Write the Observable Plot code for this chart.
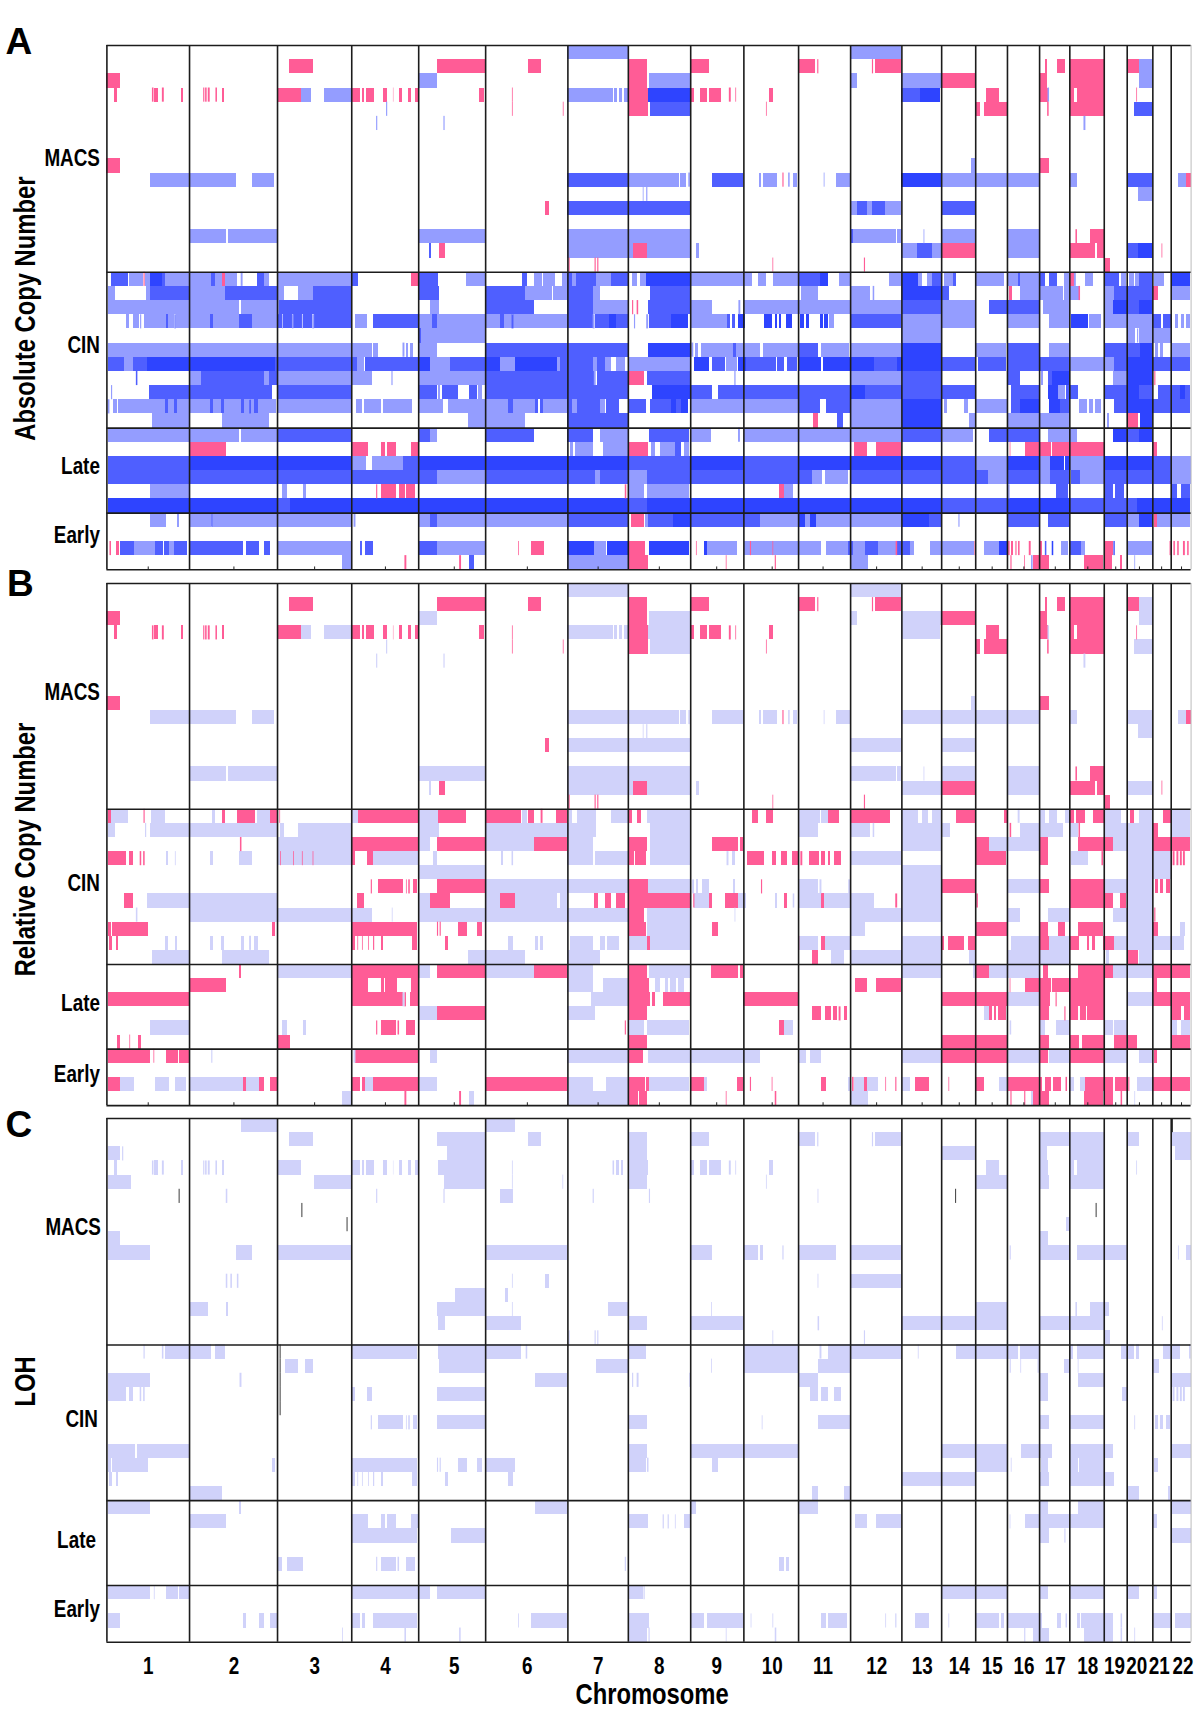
<!DOCTYPE html>
<html><head><meta charset="utf-8">
<script src="https://cdn.jsdelivr.net/npm/d3@7"></script>
<script src="https://cdn.jsdelivr.net/npm/@observablehq/plot@0.6"></script>
<style>
html,body{margin:0;padding:0;background:#fff}
#page{position:relative;width:1200px;height:1710px;overflow:hidden}
#page svg{position:absolute;left:0;background:transparent;max-width:none}
</style></head><body><div id="page"></div>
<script>
const P="loss",L="gain1",M="gain2",D="gain3",V="rel",K="mark";
const states=[P,L,M,D,V,K];
const stateColors=["#ff5c96","#949dff","#4f5fff","#2e44ff","#d0d2fa","#000000"];
const chromBounds=[279,495,725,919,1094,1269,1484,1642,1805,1944,2087,2223,2357,2461,2550,2633,2717,2796,2886,2946,3013,3061,3113];
const chromCenters=[387,611,822,1007,1187,1378,1563,1723,1873,2018,2151,2291,2410,2507,2593,2676,2758,2843,2916,2978,3036,3088];
const chromLabelX=[387,611,822,1007,1187,1378,1563,1723,1873,2018,2151,2291,2410,2507,2593,2676,2758,2843,2913,2971,3030,3092];
const chromNames=d3.range(1,23).map(String);
const groupBreaks=[16,27,33];
const HALF=1568;

const aMacsLeft=[
[0,L,1484,1568],
[1,P,755,820,1142,1269,1380,1416],
[2,P,279,314],[2,L,1094,1142],
[3,P,300,307,398,402,404,413,424,429,473,480,532,535,537,541,544,549,564,568,580,587,725,788,919,943,946,952,958,979,1002,1012,1028,1029,1045,1051,1068,1074,1085,1094,1254,1265,1339,1341],
[3,L,788,814,847,919,1484,1568],
[4,P,1339,1341,1472,1474],[4,L,1010,1013],
[5,L,984,987,1160,1163],
[8,P,279,314],
[9,L,393,618,659,718],[9,M,1484,1568],
[11,P,1426,1436],[11,M,1484,1568],
[13,L,495,592,597,725,1094,1269,1484,1568],
[14,M,1121,1128],[14,P,1148,1163],[14,L,1484,1568],
[15,P,1487,1490,1555,1558,1562,1565]];
const aMacsRight=[
[0,L,0,74,655,789],
[1,P,74,124,237,285,519,564,569,572,712,715,721,789,1164,1170,1196,1216,1229,1318,1380,1411],[1,L,1411,1443],
[2,P,74,124,893,982,1150,1170,1229,1318],[2,L,129,237,655,672,789,893,1411,1443],
[3,L,0,35,38,45,52,58,63,74,1171,1175],
[3,P,74,127,237,246,262,282,287,318,338,343,355,357,443,453,1009,1045,1150,1171,1229,1240,1248,1318,1403,1405],
[3,D,127,237,838,889],[3,M,789,838],
[4,P,74,127,435,437,982,995,1004,1064,1170,1174,1229,1318],[4,M,131,237,1398,1443],
[5,L,1265,1270],
[8,L,972,982],[8,P,1150,1175],
[9,M,0,74,294,376,1378,1445],[9,D,789,893],
[9,L,74,207,210,225,232,236,416,422,427,464,493,497,507,516,586,588,617,655,893,1148,1229,1248,1512,1532],
[9,P,478,481,1532,1545],
[10,L,113,115,122,125,1407,1445],
[11,M,0,237,673,698,713,745,893,982],[11,L,655,673,698,713,745,789],
[13,L,0,237,663,774,777,789,847,849,893,982,1065,1148],[13,M,655,663],[13,P,1244,1248,1281,1318],
[14,L,0,87,124,237,251,259,789,829,868,893,1065,1148],
[14,P,87,124,893,982,1229,1296,1300,1318,1469,1471],
[14,M,829,868,1378,1407],[14,D,1407,1445],
[15,P,452,454,691,694,1322,1335]];

const aRestLeft=[
[16,M,291,335,424,431,553,562,672,692,919,937,1094,1145,1365,1378,1484,1495,1507,1558],
[16,L,337,375,380,393,431,553,562,580,590,620,630,635,692,705,727,919,1219,1269,1398,1418,1420,1452,1470,1484,1495,1507,1558,1568],
[16,P,376,379,580,590,1074,1094],[16,D,394,424],
[17,L,282,301,383,393,495,588,725,744,781,820,1373,1445,1447,1484,1550,1568],
[17,M,394,495,588,725,820,919,1094,1148,1269,1373,1484,1550],
[18,L,282,625,632,725,725,730,1125,1148,1550,1568],[18,M,730,919,1269,1398,1484,1550],
[19,L,330,337,349,363,367,370,378,435,441,457,460,550,557,626,659,725,738,740,764,768,790,792,817,822,930,960,1094,1130,1142,1308,1317,1338,1343,1484,1550,1555],
[19,M,435,441,457,460,550,557,626,643,645,659,725,738,740,764,768,790,792,817,822,919,977,1094,1130,1142,1308,1317,1338,1343,1484,1550,1555,1568],
[20,M,1094,1102],[20,L,1102,1269],
[21,L,282,972,975,990,1053,1058,1062,1068,1073,1080,1094,1142],[21,M,1269,1568],
[22,M,282,325,349,384,720,935,954,1094,1178,1269,1465,1552,1562,1568],
[22,D,384,720,1094,1124,1269,1308,1348,1458],
[22,L,325,349,935,952,1124,1178,1308,1348,1458,1465,1552,1562],
[23,M,356,360,525,690,703,725,1269,1553,1562,1568],
[23,L,497,525,690,703,725,972,1024,1027,1094,1269,1553,1558],
[24,L,291,294,1145,1152,1250,1262],[24,M,390,712,725,919,1094,1142,1155,1197,1226,1249,1269,1568],
[25,L,282,287,295,307,310,431,441,457,463,550,558,578,586,632,639,652,657,664,676,722,725,919,931,947,952,996,1003,1077,1096,1160,1173,1328,1342,1400,1421,1484,1495,1508],
[25,M,431,441,457,463,550,558,578,586,632,639,652,657,664,676,1328,1342,1400,1408,1413,1421,1484,1495,1508,1568],
[26,L,397,495,580,703,1224,1373],[26,M,1484,1568],
[27,L,282,625,632,725,1124,1142],[27,M,725,919,1096,1124,1269,1398,1484,1552],
[28,P,497,592,921,962,996,1008,1012,1037,1074,1094],[28,L,1490,1498,1505,1550],
[29,M,282,495,1053,1094],[29,D,495,919,1094,1568],[29,L,921,957,972,1053],
[30,M,282,1142,1269,1555],[30,L,1142,1269,1555,1568],
[31,L,394,495,739,751,792,802],[31,P,984,987,998,1037,1044,1059,1062,1085],
[32,D,282,725,760,1568],[32,M,725,760],
[33,L,393,436,464,470,495,553,556,919,925,930,1096,1124,1142,1484],[33,M,553,556,1124,1142,1484,1568],
[35,P,287,291,305,312,1355,1357,1388,1423],[35,M,314,352,407,428,430,442,457,490,495,636,643,679,692,706,942,947,955,975,1096,1142],
[35,L,352,407,442,457,727,919,1142,1269,1553,1568],[35,D,1484,1553],
[36,L,895,919,1484,1568],[36,P,1058,1063,1201,1206],[36,M,1227,1239]];
const aRestRight=[
[16,L,0,31,85,98,107,122,237,399,414,435,453,519,627,655,757,789,832,843,857,868,900,925,984,1058,1065,1093,1100,1148,1215,1228,1240,1245,1270,1290,1364,1376,1385,1396,1400,1410,1450,1475],
[16,M,31,74,519,575,868,893,925,932,1093,1100,1148,1165,1176,1196,1318,1358,1410,1445],
[16,D,122,237,575,596,790,832,1497,1543],[16,P,1230,1240],
[17,M,132,237,893,913,1345,1445],[17,L,527,570,655,707,714,718,1098,1212,1214,1252,1318,1345,1497,1543],[17,D,790,893],[17,P,1070,1077,1252,1256,1448,1460],
[18,L,0,74,237,293,363,368,378,788,893,982,1158,1228,1318,1343],[18,P,85,88,97,101],[18,M,127,237,790,893,1018,1148,1378,1410],[18,D,1343,1378,1410,1445],
[19,M,0,25,43,74,130,188,333,340,347,355,655,789,1445,1468,1472,1493],[19,D,25,43,188,232,362,380,430,450,458,464,468,475,488,502,525,535,540,548,575,583,587,597,1232,1278],
[19,L,90,93,122,127,237,332,600,612,790,982,1065,1148,1175,1228,1280,1310,1318,1445,1505,1513,1520,1528,1534,1543],
[20,L,790,893,1378,1400,1405,1408,1410,1493],
[21,M,0,74,349,356,519,570,1065,1148,1318,1413],[21,D,126,237,790,893,1413,1445],
[21,L,240,245,250,258,265,349,356,420,426,519,578,652,655,789,984,1063,1175,1228,1453,1460,1465,1472,1493,1543],
[22,M,0,13,295,328,384,460,465,482,490,516,718,778,893,982,990,1063,1065,1228,1345,1378,1445,1543],[22,L,15,30,42,66,74,237,330,360,1228,1345],
[22,D,247,285,362,384,519,578,585,718,778,893,1378,1445],
[23,M,0,74,125,237,353,355,790,893,1065,1100,1172,1184],[23,P,78,115,1450,1453],[23,L,655,789,1153,1160,1342,1378],[23,D,1184,1228,1378,1445],
[24,M,0,74,237,293,310,655,693,982,1075,1150,1220,1250,1318,1378,1411,1445,1460,1518,1530,1543],[24,D,138,237,655,693,1172,1198,1378,1411,1518,1530],[24,L,1198,1218],
[25,L,0,14,237,519,657,789,900,908,953,962,984,1065,1253,1273,1280,1290,1296,1312],
[25,M,17,50,75,122,131,188,200,212,522,575,592,655,1075,1098,1203,1228,1345,1378,1445,1543],[25,D,188,200,212,232,790,893,1098,1148,1176,1203,1378,1445],
[26,M,0,74,620,636],[26,P,557,571,1380,1408],[26,L,657,789,965,982,1065,1228,1326,1333],[26,D,790,893,1412,1445],
[27,L,0,74,237,292,362,367,378,789,893,976,1172,1247],[27,M,130,235,790,893,1018,1148,1378,1410],[27,D,1343,1378,1410,1445],
[28,L,10,74,134,145,158,198,222,235],[28,P,74,128,665,700,722,788,1072,1074,1112,1180,1184,1318,1448,1457],[28,M,198,212],
[29,D,0,74,237,376,519,893,1065,1148,1178,1215,1218,1228,1318,1445],[29,M,74,237,376,519,893,982,1445,1493],[29,L,982,1065,1148,1178,1228,1318,1493,1545],
[30,M,0,74,125,555,655,982,985,1015,1065,1148,1178,1228,1232,1255,1318,1493],[30,L,74,125,555,582,590,650,1015,1065,1148,1178,1255,1318,1493,1545],
[31,P,66,70,470,482],[31,L,74,117,125,235,482,505,1068,1072],[31,M,1192,1225,1320,1342,1348,1370,1495,1510,1520,1543],
[32,D,0,74,125,893,1065,1228,1405,1543],[32,M,74,125,893,1065,1228,1405],
[33,M,0,74,128,193,237,420,860,893,1065,1148,1172,1228,1318,1378],[33,P,82,115,1450,1458],[33,L,118,128,420,519,538,550,565,789,938,941,1378,1411,1458,1543],[33,D,193,237,519,538,550,565,790,860,1411,1445],
[35,L,0,16,282,360,378,580,593,650,663,695,728,775,812,823,863,980,1005,1044,1206,1225,1258,1268,1382,1445],
[35,D,20,74,130,233,272,282,1044,1066,1182,1186],[35,P,74,120,252,254,393,396,452,454,774,778,980,982,1068,1072,1076,1082,1087,1090,1094,1098,1122,1127,1148,1157,1320,1342,1490,1493,1500,1504,1510,1514,1525,1530,1536,1540],
[35,M,650,663,695,728,778,812,1164,1168,1228,1258,1343,1347],
[36,L,0,74,657,703,1128,1132,1398,1400],[36,P,75,127,330,332,458,461,1074,1077,1110,1112,1132,1176,1267,1315,1318,1340,1360,1366]];

const bRestLeft=[
[16,P,282,290,376,379,580,590,620,668,706,725,731,733,937,1094,1145,1219,1270,1364,1382,1397,1414,1419,1455,1484],
[16,V,290,336,395,431,555,563,672,706,921,937,1096,1145,1365,1378,1488,1497,1508,1558],
[17,V,282,301,380,383,394,725,733,743,781,919,1096,1148,1269,1558],
[18,P,628,632,921,1094,1142,1269,1398,1484],[18,V,725,919,1096,1125,1269,1398,1484,1550],
[19,P,282,330,337,349,366,370,375,379,733,735,767,769,790,792,818,820,921,930,961,977],
[19,V,435,441,458,460,550,557,626,659,725,919,977,1094,1132,1142,1310,1316,1338,1342,1484,1550,1555,1568],
[20,V,725,727,1096,1269],
[21,P,970,973,990,1053,1062,1064,1068,1072,1080,1092,1142,1269],[21,V,1269,1568],
[22,P,324,349,935,953,1124,1178,1308,1347,1553,1563],[22,V,384,725,1096,1124,1269,1308,1347,1458,1465,1484],
[23,V,356,360,497,972,1025,1027,1096,1568],
[24,P,282,290,294,389,713,719,921,1092,1143,1146,1150,1153,1198,1222,1249,1261],
[25,P,286,294,304,310,921,930,935,937,947,949,963,965,976,979,996,1003,1078,1092,1163,1172],
[25,V,431,441,457,463,550,558,578,586,632,639,652,657,664,676,1328,1342,1400,1408,1413,1421,1491,1550],
[26,V,397,495,580,703,1224,1372,1484,1568],
[27,P,625,631,921,1094,1142,1269,1398,1484],[27,V,725,919,1096,1124,1269,1398,1484,1552],
[28,P,497,592,921,946,948,962,997,1005,1008,1038,1074,1094],[28,V,1484,1552],
[29,P,282,495,921,1053,1058,1062,1072,1094],[29,V,1053,1058,1545,1568],
[30,V,1096,1142,1484,1555],[30,P,1142,1269],
[31,V,394,495,739,751,792,802],[31,P,984,987,998,1037,1040,1044,1062,1085],
[32,P,307,314,339,341,361,369,725,760],
[33,P,282,393,402,404,436,465,470,495,930,1094],[33,V,553,556,925,930,1124,1142,1484,1568],
[35,P,282,314,636,644,679,692,706,725,921,942,946,956,975,1094,1270,1484],[35,V,314,352,407,442,457,486,495,636,644,679,956,975,1096,1142,1484,1552],
[36,V,895,919,1227,1239,1484,1568],[36,P,1058,1063,1201,1206]];
const bRestRight=[
[16,V,31,74,124,237,519,575,578,597,790,832,843,858,868,893,1093,1098,1148,1165,1176,1196,1217,1227,1318,1362,1410,1445,1497,1543],
[16,P,74,85,98,108,398,414,435,453,597,627,655,758,932,982,1058,1064,1230,1240,1246,1270,1290,1318,1387,1398,1474,1493],
[17,V,132,237,519,572,655,707,714,718,790,915,1098,1212,1228,1250,1318,1445,1497,1543],[17,P,1072,1076,1252,1256,1448,1460],
[18,P,74,124,294,362,367,374,984,1018,1152,1172,1250,1342,1447,1543],[18,V,132,237,790,893,1018,1148,1342,1445],
[19,V,0,74,132,237,332,337,347,355,655,789,1232,1278,1378,1493],
[19,P,74,90,93,122,385,430,450,460,475,490,502,519,525,530,548,574,578,590,597,603,613,630,984,1063,1150,1172,1312,1316,1498,1503,1508,1513,1517,1522,1525,1530],
[20,V,790,893,1380,1493],
[21,V,0,74,126,237,242,247,252,258,268,285,349,355,519,570,575,580,650,655,790,893,1065,1148,1318,1378,1380,1445],
[21,P,74,126,422,425,893,982,1150,1175,1229,1318,1453,1460,1465,1472,1480,1492],
[22,P,14,30,42,66,74,237,245,248,285,295,328,362,482,490,578,586,773,778,985,989,1229,1318,1320,1342,1360,1375],
[22,V,248,285,362,384,458,465,505,509,520,578,586,718,790,893,1380,1445],
[23,V,0,74,125,237,353,355,655,893,1065,1100,1172,1228,1342,1445],[23,P,74,115,1450,1453],
[24,P,74,122,293,310,984,1065,1150,1172,1198,1218,1250,1316,1447,1459],[24,V,125,237,655,693,1378,1445,1518,1530],
[25,V,0,14,20,50,74,124,131,237,522,572,590,655,790,893,1075,1150,1176,1228,1345,1527],
[25,P,124,131,519,522,578,590,893,901,910,953,962,982,1150,1176,1229,1253,1274,1280,1288,1296,1316,1345],
[26,P,555,572,1378,1407],[26,V,605,638,655,893,965,982,1065,1228,1325,1333,1410,1445],
[27,P,74,125,292,362,367,374,983,1018,1158,1172,1250,1342,1447,1543],[27,V,130,237,790,893,976,982,1018,1148,1342,1445],
[28,V,10,74,146,158,170,180,185,200,205,222],[28,P,74,129,668,700,722,788,1072,1074,1112,1180,1184,1318,1447,1456],
[29,V,0,74,1065,1148,1378,1445],[29,P,74,131,138,146,166,237,376,519,893,1065,1150,1178,1192,1195,1229,1318,1447,1543],
[30,P,74,125,555,580,590,605,610,620,625,630,638,648,1018,1025,1030,1037,1042,1062,1150,1175,1215,1218,1229,1250,1257,1272,1275,1318,1496,1520,1528,1543],[30,V,1005,1018],
[31,P,66,69,470,482],[31,V,74,117,125,235,482,505,1072,1076,1150,1165,1192,1228,1320,1342,1345,1378,1495,1510,1520,1543],
[32,P,74,125,893,1065,1150,1175,1230,1254,1260,1318,1346,1405,1495,1543],
[33,V,0,74,128,420,519,540,550,580,790,893,1065,1148,1174,1228,1318,1378,1411,1445],[33,P,75,113,893,1065,1150,1172,1229,1318,1450,1457],
[35,V,18,74,130,235,272,282,650,658,664,692,698,728,790,812,1044,1066,1228,1240,1256,1268,1404,1445],
[35,P,74,118,122,130,238,272,360,375,393,396,450,452,580,592,660,664,692,698,747,749,773,776,824,862,912,914,982,1005,1066,1157,1164,1180,1186,1205,1218,1222,1270,1342,1348,1378,1382,1385,1445,1543],
[36,V,0,74,657,703,1128,1134,1398,1400],[36,P,75,100,104,125,330,332,458,462,1074,1077,1110,1113,1134,1176,1266,1315,1318,1342,1362,1366]];

const cLeft=[
[0,V,630,725,1269,1347],
[1,V,755,820,1142,1269,1380,1416],
[2,V,282,314,320,323,1168,1269],
[3,V,300,307,398,402,404,413,424,429,473,480,532,535,537,541,544,549,564,568,580,587,725,788,919,943,946,952,958,979,1002,1012,1028,1029,1045,1051,1068,1074,1085,1094,1146,1269,1339,1341],
[4,V,282,343,822,919,1162,1269,1339,1341,1471,1473],
[5,V,591,595,984,987,1160,1163,1307,1343,1550,1553],[5,K,468,470],
[6,K,789,791],[7,K,907,909],
[8,V,282,314],
[9,V,282,393,618,659,725,919,1270,1484],
[11,V,591,595,603,607,620,624,1339,1341,1426,1436],
[12,V,1190,1269,1320,1330],
[13,V,497,545,591,597,1142,1269,1339,1341],
[14,V,1147,1163,1270,1362],
[15,V,1487,1490,1555,1558,1562,1565],
[16,V,376,379,424,428,432,553,562,589,921,1092,1146,1269,1270,1364,1375,1379],
[16,K,732,734],[17,K,732,734],[18,K,732,734],[19,K,732,734],[20,K,732,734],
[17,V,745,781,797,820,1149,1269,1560,1568],
[18,V,282,393,627,632,1399,1484],
[19,V,282,330,337,349,366,370,375,379,921,930,961,972,1142,1269],
[21,V,970,973,990,1053,1062,1064,1068,1072,1080,1092,1142,1269],
[23,V,282,355,360,495],
[24,V,282,290,294,389,713,719,921,1092,1143,1146,1150,1153,1198,1222,1249,1261,1270,1347],
[25,V,286,294,304,310,921,930,935,937,947,949,963,965,976,979,996,1003,1078,1092,1163,1172,1328,1342],
[26,V,497,580],
[27,V,282,392,625,631,1399,1484],
[28,V,497,592,921,962,997,1008,1012,1037,1074,1094],
[29,V,921,1092,1180,1269],
[31,V,725,739,752,792,984,987,998,1037,1040,1044,1062,1085],
[33,V,282,393,403,405,436,465,470,495,921,1124,1142,1269],
[35,V,282,314,636,644,679,692,706,725,921,942,946,956,975,1092,1355,1357,1388,1484],
[36,V,895,897,1058,1062,1201,1205]];
const cRight=[
[0,K,1497,1499],
[1,V,74,124,237,285,519,564,569,572,712,715,721,787,1150,1228,1229,1318,1380,1411,1495,1545],
[2,V,74,124,893,982,1150,1170,1229,1318,1504,1545],
[3,V,34,38,44,50,56,62,74,127,237,246,262,282,287,318,338,343,355,357,443,453,1009,1045,1150,1172,1229,1240,1248,1318,1403,1405],
[4,V,74,124,435,437,982,1064,1150,1175,1229,1318],
[5,V,129,132,570,572],[5,K,930,932],
[6,K,1297,1299],
[7,V,1220,1227],
[8,V,1150,1172],
[9,V,237,294,378,415,420,426,478,481,519,617,655,789,1072,1075,1150,1228,1248,1378,1512,1514,1532,1545],
[11,V,570,572,655,789],
[13,V,22,74,292,294,982,1065,1244,1248,1281,1332],
[14,V,74,124,237,376,570,574,789,1065,1150,1318,1470,1472],
[15,V,452,454,691,694,1320,1335],
[16,V,74,122,376,519,575,580,597,789,832,834,933,1094,1100,1148,1230,1238,1247,1318,1363,1398,1402,1410,1474,1518,1541,1545],
[17,V,0,74,292,294,376,519,572,655,1072,1075,1100,1102,1145,1148,1215,1228,1250,1252,1448,1462],
[18,V,85,88,97,102,234,236,520,570,1150,1172,1250,1318,1495,1545],
[19,V,549,572,580,597,614,630,1150,1172,1365,1378,1498,1503,1508,1513,1517,1522,1525,1530],
[21,V,74,125,424,426,570,578,580,655,1150,1175,1230,1318,1398,1400,1453,1460,1465,1472,1480,1492],
[23,V,74,125,237,518,893,1065,1102,1184,1230,1342,1495,1545],
[24,V,74,122,124,128,294,310,982,1065,1075,1077,1155,1172,1230,1250,1253,1318,1450,1460],
[25,V,789,982,1150,1175,1230,1345],
[26,V,555,572,638,655,1378,1410,1485,1492],
[27,V,237,252,520,570,1150,1172,1250,1318,1495,1545],
[28,V,74,128,165,168,178,181,197,199,221,237,668,698,722,788,1072,1074,1112,1318,1447,1456],
[29,V,1150,1175,1215,1218,1495,1545],
[31,V,66,69,470,482,488,494],
[33,V,74,113,115,118,893,1065,1150,1172,1230,1318,1378,1410,1450,1457],
[35,V,74,130,238,272,282,375,395,397,452,454,580,592,597,648,747,749,773,776,824,862,912,914,982,1045,1050,1056,1065,1148,1150,1157,1196,1205,1218,1222,1248,1255,1258,1342,1362,1366,1447,1493,1503,1545],
[36,V,74,125,128,131,330,332,458,462,1065,1068,1110,1113,1133,1176,1266,1342,1362,1366,1398,1400]];

const expand=(rows,off)=>rows.flatMap(([row,state,...v])=>d3.range(0,v.length,2).map(i=>({row,state,start:v[i]+off,end:v[i+1]+off})));
const table=(left,right)=>[...expand(left,0),...expand(right,HALF)];
const toRelative=d=>({...d,state:d.state===P?P:V});
const aData=table([...aMacsLeft,...aRestLeft],[...aMacsRight,...aRestRight]);
const bData=[...table(aMacsLeft,aMacsRight).map(toRelative),...table(bRestLeft,bRestRight)];
const cData=table(cLeft,cRight);

const FONT="'Liberation Sans',sans-serif";
const groups=["MACS","CIN","Late","Early"];
const isThin=d=>d.end-d.start<6;
function panel({data,letter,letterDx,letterDy,title,titleY,titleDx,top,bottom,groupY,groupDx,ticks,last}){
  const mt=34,mb=last?72:6,height=bottom-top+mt+mb;
  const edge=chromBounds[chromBounds.length-1];
  const cell={x1:"start",x2:"end",y1:"row",y2:d=>d.row+1,fill:"state"};
  const groupRows=groups.map((name,i)=>({name,y:groupY[i],dx:groupDx[i]}));
  const svg=Plot.plot({
    width:1200,height,marginLeft:106.4,marginRight:9.4,marginTop:mt,marginBottom:mb,
    x:{domain:[chromBounds[0],edge],axis:null},
    y:{domain:[37,0],axis:null},
    color:{domain:states,range:stateColors},
    marks:[
      Plot.rect(data.filter(d=>!isThin(d)),{...cell,shapeRendering:"crispEdges"}),
      Plot.rect(data.filter(isThin),cell),
      Plot.ruleX(chromBounds.slice(0,-1),{stroke:"#1c1c1c",strokeWidth:1.6}),
      Plot.ruleX([edge],{stroke:"#bbb",strokeWidth:1}),
      Plot.ruleY([0,...groupBreaks,37],{stroke:"#1c1c1c",strokeWidth:1.6}),
      ticks?Plot.ruleX(chromCenters,{y1:37,y2:36.8,stroke:"#222",strokeWidth:1}):null,
      ...groupRows.map(g=>Plot.text([g.name],{x:chromBounds[0],y:g.y,text:d=>d,textAnchor:"end",dx:g.dx,fontFamily:FONT,fontWeight:"bold",fontSize:23,fill:"#000"})),
      Plot.text([letter],{frameAnchor:"top-left",dx:letterDx,dy:letterDy,lineAnchor:"bottom",textAnchor:"start",fontFamily:FONT,fontWeight:"bold",fontSize:37,fill:"#000"}),
      Plot.text([title],{frameAnchor:"left",dx:titleDx,dy:titleY,rotate:-90,textAnchor:"middle",fontFamily:FONT,fontWeight:"bold",fontSize:29,fill:"#000"}),
      last?Plot.text(chromNames,{x:chromLabelX,y:37,dy:24,text:d=>d,fontFamily:FONT,fontWeight:"bold",fontSize:23,fill:"#000"}):null,
      last?Plot.text(["Chromosome"],{x:1704,y:37,dy:53,text:d=>d,fontFamily:FONT,fontWeight:"bold",fontSize:29,fill:"#000"}):null
    ]
  });
  svg.style.top=(top-mt)+"px";
  document.getElementById("page").appendChild(svg);
  // the reference uses a condensed cut of the sans: narrow the labels to the same proportion
  svg.querySelectorAll('g[font-size="23"] text,g[font-size="29"] text').forEach(t=>{
    const w=t.getComputedTextLength();
    t.setAttribute("textLength",(w*0.82).toFixed(1));
    t.setAttribute("lengthAdjust","spacingAndGlyphs");
  });
}
panel({data:aData,letter:"A",letterDx:-101.4,letterDy:8.5,title:"Absolute Copy Number",titleY:1,titleDx:-81,top:44.7,bottom:569,groupY:[8,21.2,29.7,34.6],groupDx:[-7,-7,-7,-7],ticks:true});
panel({data:bData,letter:"B",letterDx:-99.9,letterDy:12.5,title:"Relative Copy Number",titleY:5,titleDx:-81,top:582.7,bottom:1104.8,groupY:[7.75,21.3,29.8,34.8],groupDx:[-7,-7,-7,-7],ticks:true});
panel({data:cData,letter:"C",letterDx:-101.4,letterDy:19,title:"LOH",titleY:1,titleDx:-81,top:1118.3,bottom:1642,groupY:[7.7,21.3,29.8,34.7],groupDx:[-6,-9,-11,-7],ticks:false,last:true});
</script></body></html>
